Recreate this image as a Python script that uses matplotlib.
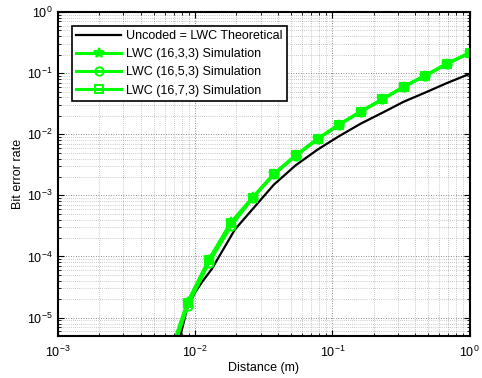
import numpy as np
import matplotlib.pyplot as plt

# distances (m) at which simulation points were taken
dist = [0.0061, 0.0088, 0.0126, 0.0182, 0.0263, 0.0375, 0.054, 0.078,
        0.112, 0.161, 0.231, 0.331, 0.475, 0.687, 1.0]
ber_163 = [1.6e-6, 1.8e-5, 8.9e-5, 3.6e-4, 9.3e-4, 2.25e-3, 4.5e-3, 8.4e-3,
           1.44e-2, 2.35e-2, 3.73e-2, 5.96e-2, 9.1e-2, 0.143, 0.214]
ber_165 = [1.3e-6, 1.55e-5, 7.9e-5, 3.1e-4, 9.1e-4, 2.2e-3, 4.4e-3, 8.3e-3,
           1.43e-2, 2.34e-2, 3.72e-2, 5.95e-2, 9.1e-2, 0.142, 0.213]
ber_173 = [1.5e-6, 1.75e-5, 8.8e-5, 3.5e-4, 9.2e-4, 2.25e-3, 4.5e-3, 8.4e-3,
           1.44e-2, 2.35e-2, 3.73e-2, 5.96e-2, 9.1e-2, 0.143, 0.214]

# theoretical uncoded curve
dist_th = [0.0072, 0.0078, 0.0087, 0.0100, 0.0113, 0.0132, 0.0155, 0.0195,
           0.0263, 0.0375, 0.054, 0.078, 0.112, 0.161, 0.231, 0.331,
           0.475, 0.687, 1.0]
ber_th = [1.6e-6, 5e-6, 1.37e-5, 2.6e-5, 3.9e-5, 6.2e-5, 1.15e-4, 2.77e-4,
          6.0e-4, 1.5e-3, 3.1e-3, 5.6e-3, 9.3e-3, 1.49e-2, 2.24e-2, 3.4e-2,
          4.8e-2, 6.9e-2, 9.7e-2]

plt.rcParams['font.family'] = ['Liberation Sans', 'DejaVu Sans']
fig = plt.figure(figsize=(4.82, 3.78), dpi=100)
ax = fig.add_axes([58/482, 1-336/378, (469.5-58)/482, (336-12)/378])

green = '#00ff00'
ax.loglog(dist_th, ber_th, color='black', lw=1.6, label='Uncoded = LWC Theoretical')
ax.loglog(dist, ber_163, color=green, lw=2.2, marker='*', ms=7, mew=1.4,
          label='LWC (16,3,3) Simulation')
ax.loglog(dist, ber_165, color=green, lw=2.2, marker='o', ms=6, mfc='none', mew=1.4,
          label='LWC (16,5,3) Simulation')
ax.loglog(dist, ber_173, color=green, lw=2.2, marker='s', ms=6, mfc='none', mew=1.4,
          label='LWC (16,7,3) Simulation')

ax.set_xlim(1e-3, 1)
ax.set_ylim(5e-6, 1)
ax.grid(True, which='major', ls=(0, (1, 2)), color='black', lw=0.6, alpha=0.6)
ax.grid(True, which='minor', ls=(0, (1, 2)), color='black', lw=0.5, alpha=0.4)
ax.tick_params(which='both', direction='in', top=True, right=True, labelsize=9)
ax.tick_params(which='major', length=4)
ax.tick_params(axis='x', which='major', pad=6)
ax.tick_params(axis='y', which='major', pad=4)
ax.tick_params(which='minor', length=2)
for s in ax.spines.values():
    s.set_linewidth(1.5)

ax.set_xlabel('Distance (m)', fontsize=9, labelpad=2)
ax.set_ylabel('Bit error rate', fontsize=9, labelpad=2)

leg = ax.legend(loc='upper left', bbox_to_anchor=(0.034, 0.958), fontsize=9,
                fancybox=False, framealpha=1, edgecolor='black',
                handlelength=3.6, handletextpad=0.4, borderpad=0.35,
                labelspacing=0.5, borderaxespad=0)
leg.get_frame().set_linewidth(1.2)

fig.savefig('out.png', dpi=100)
